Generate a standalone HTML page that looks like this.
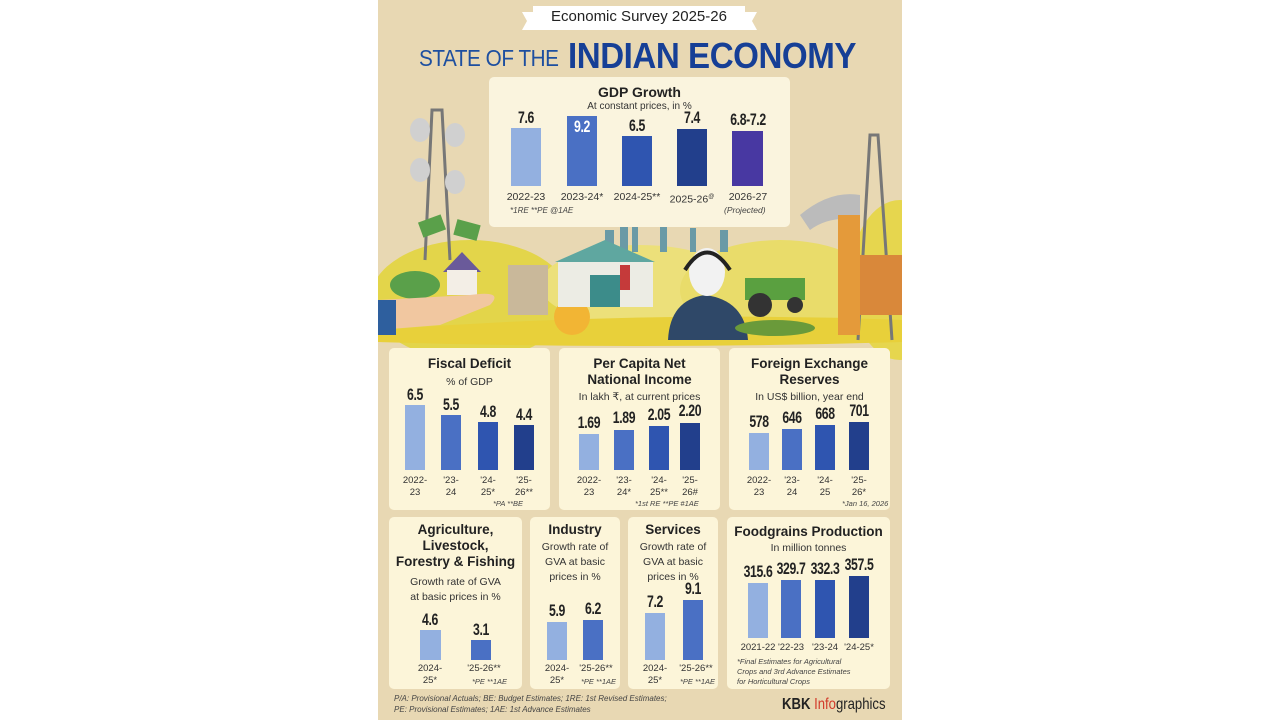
<!DOCTYPE html>
<html><head><meta charset="utf-8"><style>
*{margin:0;padding:0;box-sizing:border-box}
body{width:1280px;height:720px;background:#fff;position:relative;overflow:hidden;font-family:"Liberation Sans",sans-serif}
.a{position:absolute}
.p{position:absolute;background:#fcf5d9;border-radius:5px}
.t{position:absolute;text-align:center;font-weight:bold;color:#222;font-size:13.5px;line-height:16px}
.s{position:absolute;text-align:center;color:#333;font-size:10.5px;line-height:13px}
.v{position:absolute;text-align:center;font-weight:bold;color:#222;font-size:17px;width:60px;margin-left:-30px;transform:scaleX(0.72);letter-spacing:-0.5px}
.b{position:absolute}
.l{position:absolute;text-align:center;color:#333;font-size:9.5px;line-height:12px;width:50px;margin-left:-25px}
.f{position:absolute;color:#444;font-size:7.5px;font-style:italic}
</style></head><body>
<svg class="a" style="left:0;top:0" width="1280" height="720">
<defs><clipPath id="c"><rect x="378" y="0" width="524" height="720"/></clipPath></defs>
<rect x="378" y="0" width="524" height="720" fill="#e8d8b3"/>
<g clip-path="url(#c)">
<polygon points="522,12 533,12 533,30 522,30 527,21" fill="#fff"/>
<polygon points="757,12 745,12 745,30 757,30 752,21" fill="#fff"/>
<rect x="533" y="6" width="212" height="24" fill="#fff"/>
<ellipse cx="470" cy="300" rx="100" ry="60" fill="#e3d54a"/>
<ellipse cx="640" cy="285" rx="100" ry="40" fill="#ece07a"/>
<ellipse cx="780" cy="290" rx="100" ry="50" fill="#e9dc6a"/>
<ellipse cx="900" cy="280" rx="50" ry="80" fill="#e6d64e"/>
<path d="M378 330 Q640 310 902 320 L902 342 Q640 350 378 342Z" fill="#e8d03a"/>
<g fill="#6a9aa6"><rect x="620" y="222" width="8" height="30"/><rect x="632" y="210" width="6" height="42"/><rect x="660" y="215" width="7" height="37"/><rect x="690" y="228" width="6" height="24"/><rect x="720" y="230" width="8" height="22"/><rect x="605" y="230" width="9" height="22"/></g>
<g stroke="#777" stroke-width="3" fill="none"><path d="M425 260 L432 110 L442 110 L450 260"/><path d="M858 340 L870 135 L878 135 L892 340"/></g>
<g fill="#d0d0d0"><ellipse cx="420" cy="130" rx="10" ry="12"/><ellipse cx="455" cy="135" rx="10" ry="12"/><ellipse cx="420" cy="170" rx="10" ry="12"/><ellipse cx="455" cy="182" rx="10" ry="12"/></g>
<path d="M800 215 Q830 190 860 195 L860 220 Q830 215 810 230Z" fill="#bbb"/>
<rect x="838" y="215" width="22" height="120" fill="#e49a3a"/>
<rect x="860" y="255" width="42" height="60" fill="#d9883a"/>
<g fill="#5aa04a"><rect x="420" y="218" width="24" height="16" transform="rotate(-20 432 226)"/><rect x="455" y="222" width="24" height="16" transform="rotate(15 467 230)"/><ellipse cx="415" cy="285" rx="25" ry="14"/></g>
<polygon points="443,272 462,252 481,272" fill="#6a5a9a"/><rect x="447" y="270" width="30" height="25" fill="#f3eee6"/>
<path d="M378 300 L470 295 Q505 290 490 305 L440 325 L378 330Z" fill="#f1c7a0"/>
<rect x="378" y="300" width="18" height="35" fill="#2e5f9e"/>
<circle cx="572" cy="317" r="18" fill="#f2b534"/>
<polygon points="555,262 605,240 655,262" fill="#5fa7a0"/><rect x="558" y="262" width="95" height="45" fill="#ecece4"/><rect x="590" y="275" width="30" height="32" fill="#3c8c8a"/>
<rect x="508" y="265" width="40" height="50" fill="#c9b89a"/>
<rect x="620" y="265" width="10" height="25" fill="#c53a3a"/>
<path d="M668 340 Q670 300 705 295 Q745 300 748 340Z" fill="#2f4868"/>
<ellipse cx="707" cy="272" rx="18" ry="24" fill="#f2f2f2"/>
<path d="M685 270 Q707 235 730 270" stroke="#222" stroke-width="4" fill="none"/>
<rect x="745" y="278" width="60" height="22" fill="#5aa040"/><circle cx="760" cy="305" r="12" fill="#333"/><circle cx="795" cy="305" r="8" fill="#333"/>
<ellipse cx="775" cy="328" rx="40" ry="8" fill="#6a9a3a"/>
</g>
</svg>

<div class="a" style="left:533px;top:8px;width:212px;text-align:center;font-size:15px;color:#222">Economic Survey 2025-26</div>
<div class="a" style="left:419px;top:45px;font-size:23px;color:#1d4fa0;letter-spacing:-0.5px;transform:scaleX(0.9);transform-origin:left">STATE OF THE</div>
<div class="a" style="left:568px;top:35px;font-size:36px;font-weight:bold;color:#163f96;letter-spacing:-0.5px;transform:scaleX(0.92);transform-origin:left;white-space:nowrap">INDIAN ECONOMY</div>

<div class="p" style="left:489px;top:77px;width:301px;height:150px;background:#faf4de"></div>
<div class="t" style="left:489px;top:84px;width:301px;font-size:14px">GDP Growth</div>
<div class="s" style="left:489px;top:100px;width:301px;font-size:10px">At constant prices, in %</div>
<div class="b" style="left:511px;top:128px;width:30px;height:58px;background:#93b0e0"></div>
<div class="b" style="left:567px;top:116px;width:30px;height:70px;background:#4a70c4"></div>
<div class="b" style="left:622px;top:136px;width:30px;height:50px;background:#2f55b0"></div>
<div class="b" style="left:677px;top:129px;width:30px;height:57px;background:#223f8c"></div>
<div class="b" style="left:732px;top:131px;width:31px;height:55px;background:#4838a2"></div>
<div class="v" style="left:526px;top:108px">7.6</div>
<div class="v" style="left:582px;top:117px;color:#fff">9.2</div>
<div class="v" style="left:637px;top:116px">6.5</div>
<div class="v" style="left:692px;top:108px">7.4</div>
<div class="v" style="left:748px;top:110px;width:80px;margin-left:-40px">6.8-7.2</div>
<div class="l" style="left:526px;top:191px;font-size:10.5px;width:60px;margin-left:-30px">2022-23</div>
<div class="l" style="left:582px;top:191px;font-size:10.5px;width:60px;margin-left:-30px">2023-24*</div>
<div class="l" style="left:637px;top:191px;font-size:10.5px;width:60px;margin-left:-30px">2024-25**</div>
<div class="l" style="left:692px;top:191px;font-size:10.5px;width:60px;margin-left:-30px">2025-26<sup style="font-size:6px">@</sup></div>
<div class="l" style="left:748px;top:191px;font-size:10.5px;width:60px;margin-left:-30px">2026-27</div>
<div class="f" style="left:510px;top:206px;font-size:8px">*1RE **PE @1AE</div>
<div class="f" style="left:724px;top:205px;font-size:8.5px">(Projected)</div>

<div class="p" style="left:389px;top:348px;width:161px;height:162px"></div>
<div class="t" style="left:389px;top:356px;width:161px">Fiscal Deficit</div>
<div class="s" style="left:389px;top:376px;width:161px">% of GDP</div>
<div class="b" style="left:405px;top:405px;width:20px;height:65px;background:#93b0e0"></div>
<div class="b" style="left:441px;top:415px;width:20px;height:55px;background:#4a70c4"></div>
<div class="b" style="left:478px;top:422px;width:20px;height:48px;background:#2f55b0"></div>
<div class="b" style="left:514px;top:425px;width:20px;height:45px;background:#223f8c"></div>
<div class="v" style="left:415px;top:385px">6.5</div><div class="v" style="left:451px;top:395px">5.5</div><div class="v" style="left:488px;top:402px">4.8</div><div class="v" style="left:524px;top:405px">4.4</div>
<div class="l" style="left:415px;top:475px">2022-<br>23</div><div class="l" style="left:451px;top:475px">'23-<br>24</div><div class="l" style="left:488px;top:475px">'24-<br>25*</div><div class="l" style="left:524px;top:475px">'25-<br>26**</div>
<div class="f" style="left:493px;top:499px">*PA **BE</div>

<div class="p" style="left:559px;top:348px;width:161px;height:162px"></div>
<div class="t" style="left:559px;top:356px;width:161px">Per Capita Net<br>National Income</div>
<div class="s" style="left:559px;top:391px;width:161px">In lakh ₹, at current prices</div>
<div class="b" style="left:579px;top:434px;width:20px;height:36px;background:#93b0e0"></div>
<div class="b" style="left:614px;top:430px;width:20px;height:40px;background:#4a70c4"></div>
<div class="b" style="left:649px;top:426px;width:20px;height:44px;background:#2f55b0"></div>
<div class="b" style="left:680px;top:423px;width:20px;height:47px;background:#223f8c"></div>
<div class="v" style="left:589px;top:413px">1.69</div><div class="v" style="left:624px;top:408px">1.89</div><div class="v" style="left:659px;top:405px">2.05</div><div class="v" style="left:690px;top:401px">2.20</div>
<div class="l" style="left:589px;top:475px">2022-<br>23</div><div class="l" style="left:624px;top:475px">'23-<br>24*</div><div class="l" style="left:659px;top:475px">'24-<br>25**</div><div class="l" style="left:690px;top:475px">'25-<br>26#</div>
<div class="f" style="left:635px;top:499px">*1st RE **PE #1AE</div>

<div class="p" style="left:729px;top:348px;width:161px;height:162px"></div>
<div class="t" style="left:729px;top:356px;width:161px">Foreign Exchange<br>Reserves</div>
<div class="s" style="left:729px;top:391px;width:161px">In US$ billion, year end</div>
<div class="b" style="left:749px;top:433px;width:20px;height:37px;background:#93b0e0"></div>
<div class="b" style="left:782px;top:429px;width:20px;height:41px;background:#4a70c4"></div>
<div class="b" style="left:815px;top:425px;width:20px;height:45px;background:#2f55b0"></div>
<div class="b" style="left:849px;top:422px;width:20px;height:48px;background:#223f8c"></div>
<div class="v" style="left:759px;top:412px">578</div><div class="v" style="left:792px;top:408px">646</div><div class="v" style="left:825px;top:404px">668</div><div class="v" style="left:859px;top:401px">701</div>
<div class="l" style="left:759px;top:475px">2022-<br>23</div><div class="l" style="left:792px;top:475px">'23-<br>24</div><div class="l" style="left:825px;top:475px">'24-<br>25</div><div class="l" style="left:859px;top:475px">'25-<br>26*</div>
<div class="f" style="left:842px;top:499px">*Jan 16, 2026</div>

<div class="p" style="left:389px;top:517px;width:133px;height:172px"></div>
<div class="t" style="left:389px;top:522px;width:133px">Agriculture,<br>Livestock,<br>Forestry &amp; Fishing</div>
<div class="s" style="left:389px;top:575px;width:133px;line-height:15px">Growth rate of GVA<br>at basic prices in %</div>
<div class="b" style="left:420px;top:630px;width:21px;height:30px;background:#93b0e0"></div>
<div class="b" style="left:471px;top:640px;width:20px;height:20px;background:#4a70c4"></div>
<div class="v" style="left:430px;top:610px">4.6</div><div class="v" style="left:481px;top:620px">3.1</div>
<div class="l" style="left:430px;top:663px">2024-<br>25*</div><div class="l" style="left:484px;top:663px">'25-26**</div>
<div class="f" style="left:472px;top:677px">*PE **1AE</div>

<div class="p" style="left:530px;top:517px;width:90px;height:172px"></div>
<div class="t" style="left:530px;top:522px;width:90px">Industry</div>
<div class="s" style="left:530px;top:540px;width:90px;line-height:15px">Growth rate of<br>GVA at basic<br>prices in %</div>
<div class="b" style="left:547px;top:622px;width:20px;height:38px;background:#93b0e0"></div>
<div class="b" style="left:583px;top:620px;width:20px;height:40px;background:#4a70c4"></div>
<div class="v" style="left:557px;top:601px">5.9</div><div class="v" style="left:593px;top:599px">6.2</div>
<div class="l" style="left:557px;top:663px">2024-<br>25*</div><div class="l" style="left:596px;top:663px">'25-26**</div>
<div class="f" style="left:581px;top:677px">*PE **1AE</div>

<div class="p" style="left:628px;top:517px;width:90px;height:172px"></div>
<div class="t" style="left:628px;top:522px;width:90px">Services</div>
<div class="s" style="left:628px;top:540px;width:90px;line-height:15px">Growth rate of<br>GVA at basic<br>prices in %</div>
<div class="b" style="left:645px;top:613px;width:20px;height:47px;background:#93b0e0"></div>
<div class="b" style="left:683px;top:600px;width:20px;height:60px;background:#4a70c4"></div>
<div class="v" style="left:655px;top:592px">7.2</div><div class="v" style="left:693px;top:579px">9.1</div>
<div class="l" style="left:655px;top:663px">2024-<br>25*</div><div class="l" style="left:696px;top:663px">'25-26**</div>
<div class="f" style="left:680px;top:677px">*PE **1AE</div>

<div class="p" style="left:727px;top:517px;width:163px;height:172px"></div>
<div class="t" style="left:727px;top:524px;width:163px;font-size:13.5px">Foodgrains Production</div>
<div class="s" style="left:727px;top:542px;width:163px">In million tonnes</div>
<div class="b" style="left:748px;top:583px;width:20px;height:55px;background:#93b0e0"></div>
<div class="b" style="left:781px;top:580px;width:20px;height:58px;background:#4a70c4"></div>
<div class="b" style="left:815px;top:580px;width:20px;height:58px;background:#2f55b0"></div>
<div class="b" style="left:849px;top:576px;width:20px;height:62px;background:#223f8c"></div>
<div class="v" style="left:758px;top:562px">315.6</div><div class="v" style="left:791px;top:559px">329.7</div><div class="v" style="left:825px;top:559px">332.3</div><div class="v" style="left:859px;top:555px">357.5</div>
<div class="l" style="left:758px;top:642px">2021-22</div><div class="l" style="left:791px;top:642px">'22-23</div><div class="l" style="left:825px;top:642px">'23-24</div><div class="l" style="left:859px;top:642px">'24-25*</div>
<div class="f" style="left:737px;top:657px;line-height:10px">*Final Estimates for Agricultural<br>Crops and 3rd Advance Estimates<br>for Horticultural Crops</div>

<div class="f" style="left:394px;top:693px;line-height:11px;font-size:8px">P/A: Provisional Actuals; BE: Budget Estimates; 1RE: 1st Revised Estimates;<br>PE: Provisional Estimates; 1AE: 1st Advance Estimates</div>
<div class="a" style="left:782px;top:696px;font-size:16px;color:#222;transform:scaleX(0.82);transform-origin:left;white-space:nowrap"><b>KBK</b> <span style="color:#d23a2a">Info</span>graphics</div>
</body></html>
